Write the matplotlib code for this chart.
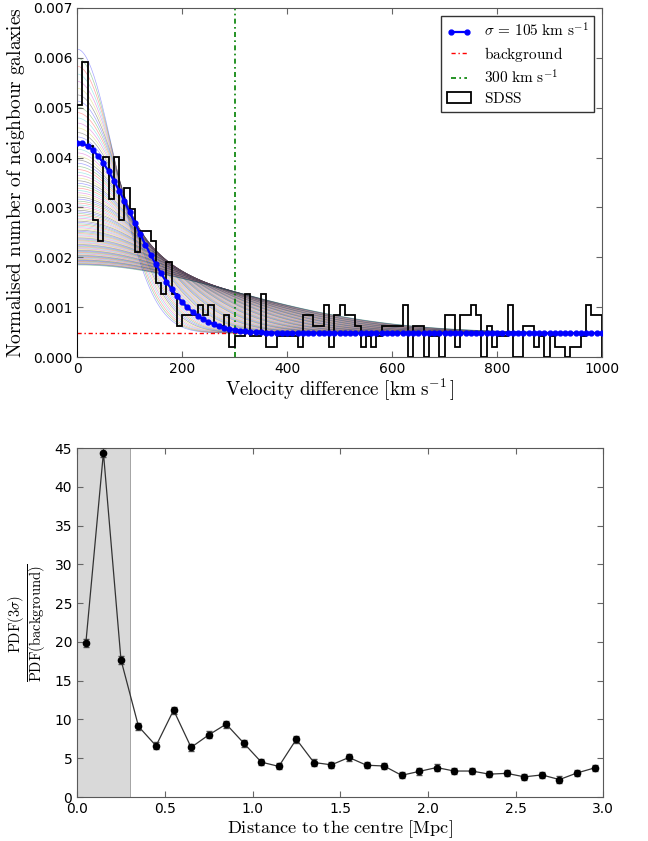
import numpy as np
import matplotlib
matplotlib.use('Agg')
import matplotlib.pyplot as plt

plt.rcParams['mathtext.fontset'] = 'cm'
plt.rcParams['font.family'] = 'DejaVu Sans'
plt.rcParams['xtick.direction'] = 'in'
plt.rcParams['ytick.direction'] = 'in'
plt.rcParams['xtick.top'] = True
plt.rcParams['ytick.right'] = True

# --- top panel: velocity difference distribution ---
bin_edges = np.arange(0, 1001, 10)          # km/s, 10 km/s bins
sdss_counts = [
    5.06, 5.92, 4.23, 2.74, 2.32, 4.01, 3.16, 4.01, 2.74, 3.38,
    2.96, 2.11, 2.53, 2.53, 2.32, 1.48, 1.26, 1.90, 1.26, 0.63,
    0.84, 0.84, 0.84, 1.05, 0.84, 1.05, 0.63, 0.63, 0.84, 0.21,
    0.42, 0.42, 1.26, 0.42, 0.42, 1.26, 0.21, 0.21, 0.42, 0.42,
    0.42, 0.42, 0.21, 0.84, 0.84, 0.63, 0.63, 1.05, 0.21, 0.84,
    1.05, 0.84, 0.84, 0.63, 0.21, 0.42, 0.21, 0.42, 0.63, 0.63,
    0.63, 0.63, 1.05, 0.00, 0.63, 0.63, 0.00, 0.42, 0.42, 0.00,
    0.84, 0.84, 0.21, 0.84, 0.84, 1.05, 0.84, 0.00, 0.63, 0.21,
    0.42, 0.42, 1.05, 0.00, 0.00, 0.63, 0.63, 0.21, 0.42, 0.00,
    0.42, 0.21, 0.21, 0.00, 0.21, 0.21, 0.42, 1.05, 0.84, 0.84,
]  # x 1e-3
sdss_heights = np.array(sdss_counts) * 1e-3

model_velocity = np.arange(0, 1001, 10)
model_values = [
    4.300, 4.283, 4.231, 4.147, 4.033, 3.891, 3.725, 3.539, 3.338, 3.126,
    2.907, 2.687, 2.468, 2.255, 2.050, 1.857, 1.676, 1.510, 1.359, 1.223,
    1.103, 0.997, 0.905, 0.827, 0.760, 0.704, 0.658, 0.620, 0.589, 0.564,
    0.545, 0.529, 0.517, 0.507, 0.500, 0.495, 0.491, 0.488, 0.485, 0.484,
    0.483,
] + [0.481] * 60  # x 1e-3
model_values = np.array(model_values) * 1e-3

background_level = 0.00048
velocity_cut = 300

# family of trial dispersions drawn behind the data
fan_sigma_min, fan_sigma_max, fan_count = 72, 300, 100
fan_norm = 0.41  # peak amplitude * sigma
fan_colors = ['b', 'g', 'r', 'c', 'm', 'y', 'k']

# --- bottom panel: PDF ratio vs radius ---
radius = [0.05, 0.15, 0.25, 0.35, 0.45, 0.55, 0.65, 0.75, 0.85, 0.95,
          1.05, 1.15, 1.25, 1.35, 1.45, 1.55, 1.65, 1.75, 1.85, 1.95,
          2.05, 2.15, 2.25, 2.35, 2.45, 2.55, 2.65, 2.75, 2.85, 2.95]
pdf_ratio = [19.9, 44.4, 17.7, 9.1, 6.6, 11.2, 6.4, 8.0, 9.4, 6.95,
             4.5, 3.95, 7.45, 4.45, 4.15, 5.1, 4.1, 4.0, 2.8, 3.3,
             3.8, 3.35, 3.35, 2.95, 3.05, 2.6, 2.85, 2.25, 3.1, 3.75]
pdf_ratio_err = [0.5, 0.6, 0.5, 0.45, 0.45, 0.45, 0.45, 0.45, 0.45, 0.45,
                 0.4, 0.4, 0.45, 0.4, 0.4, 0.4, 0.4, 0.4, 0.4, 0.4,
                 0.4, 0.4, 0.4, 0.4, 0.4, 0.4, 0.4, 0.4, 0.4, 0.4]
core_radius = 0.3

fig = plt.figure(figsize=(6.48, 8.41), dpi=100)

# top panel
ax1 = fig.add_axes([0.119, 0.5755, 0.810, 0.415])
v_fine = np.linspace(0, 1000, 401)
for i, sig in enumerate(np.linspace(fan_sigma_min, fan_sigma_max, fan_count)):
    curve = background_level + fan_norm / sig * np.exp(-v_fine**2 / (2 * sig**2))
    ax1.plot(v_fine, curve, color=fan_colors[i % len(fan_colors)],
             lw=0.5, alpha=0.35, zorder=1)

ax1.hist(bin_edges[:-1] + 5, bins=bin_edges, weights=sdss_heights,
         histtype='step', color='k', lw=1.3, label='$\\mathrm{SDSS}$', zorder=3)
ax1.axhline(background_level, color='r', ls=(0, (3, 2, 1, 2)), lw=1,
            label='$\\mathrm{background}$', zorder=2)
ax1.axvline(velocity_cut, color='g', ls=(0, (3, 2, 1, 2)), lw=1.2,
            label='$300\\ \\mathrm{km\\ s^{-1}}$', zorder=2)
ax1.plot(model_velocity, model_values, color='b', lw=1.6, marker='o', ms=3.5,
         label='$\\sigma\\,=\\,105\\ \\mathrm{km\\ s^{-1}}$', zorder=4)

ax1.set_xlim(0, 1000)
ax1.set_ylim(0, 0.007)
ax1.set_xticks([0, 200, 400, 600, 800, 1000])
ax1.set_yticks(np.arange(0, 0.0071, 0.001))
ax1.yaxis.set_major_formatter(matplotlib.ticker.FormatStrFormatter('%.3f'))
ax1.set_xlabel('$\\mathrm{Velocity\\ difference\\ [km\\ s^{-1}\\,]}$', fontsize=13.7, labelpad=1)
ax1.set_ylabel('$\\mathrm{Normalised\\ number\\ of\\ neighbour\\ galaxies}$', fontsize=14)

handles, labels = ax1.get_legend_handles_labels()
order = [labels.index(l) for l in ['$\\sigma\\,=\\,105\\ \\mathrm{km\\ s^{-1}}$',
                                   '$\\mathrm{background}$',
                                   '$300\\ \\mathrm{km\\ s^{-1}}$',
                                   '$\\mathrm{SDSS}$']]
leg = ax1.legend([handles[k] for k in order], [labels[k] for k in order],
                 loc='upper right', fontsize=11, numpoints=2, handlelength=1.6,
                 fancybox=False, borderaxespad=0.5, labelspacing=0.3)
leg.get_frame().set_edgecolor('k')

# bottom panel
ax2 = fig.add_axes([0.119, 0.0523, 0.812, 0.415])
ax2.axvspan(0, core_radius, facecolor='0.85', edgecolor='0.6', lw=0.6, zorder=0)
ax2.errorbar(radius, pdf_ratio, yerr=pdf_ratio_err, color='0.2', lw=0.9,
             marker='o', ms=4.5, mfc='k', mec='k', ecolor='0.3', elinewidth=0.8,
             capsize=2, zorder=3)
ax2.set_xlim(0, 3)
ax2.set_ylim(0, 45)
ax2.set_xticks(np.arange(0, 3.01, 0.5))
ax2.set_yticks(np.arange(0, 46, 5))
ax2.set_xlabel('$\\mathrm{Distance\\ to\\ the\\ centre\\ [Mpc]}$', fontsize=13.2, labelpad=2)
ax2.set_ylabel('$\\frac{\\mathrm{PDF}(3\\sigma)}{\\mathrm{PDF}(\\mathrm{background})}$', fontsize=15)

for ax in (ax1, ax2):
    ax.tick_params(labelsize=10, length=4, color='0.4')
    for sp in ax.spines.values():
        sp.set_color('0.35')

fig.savefig('out.png', dpi=100)
